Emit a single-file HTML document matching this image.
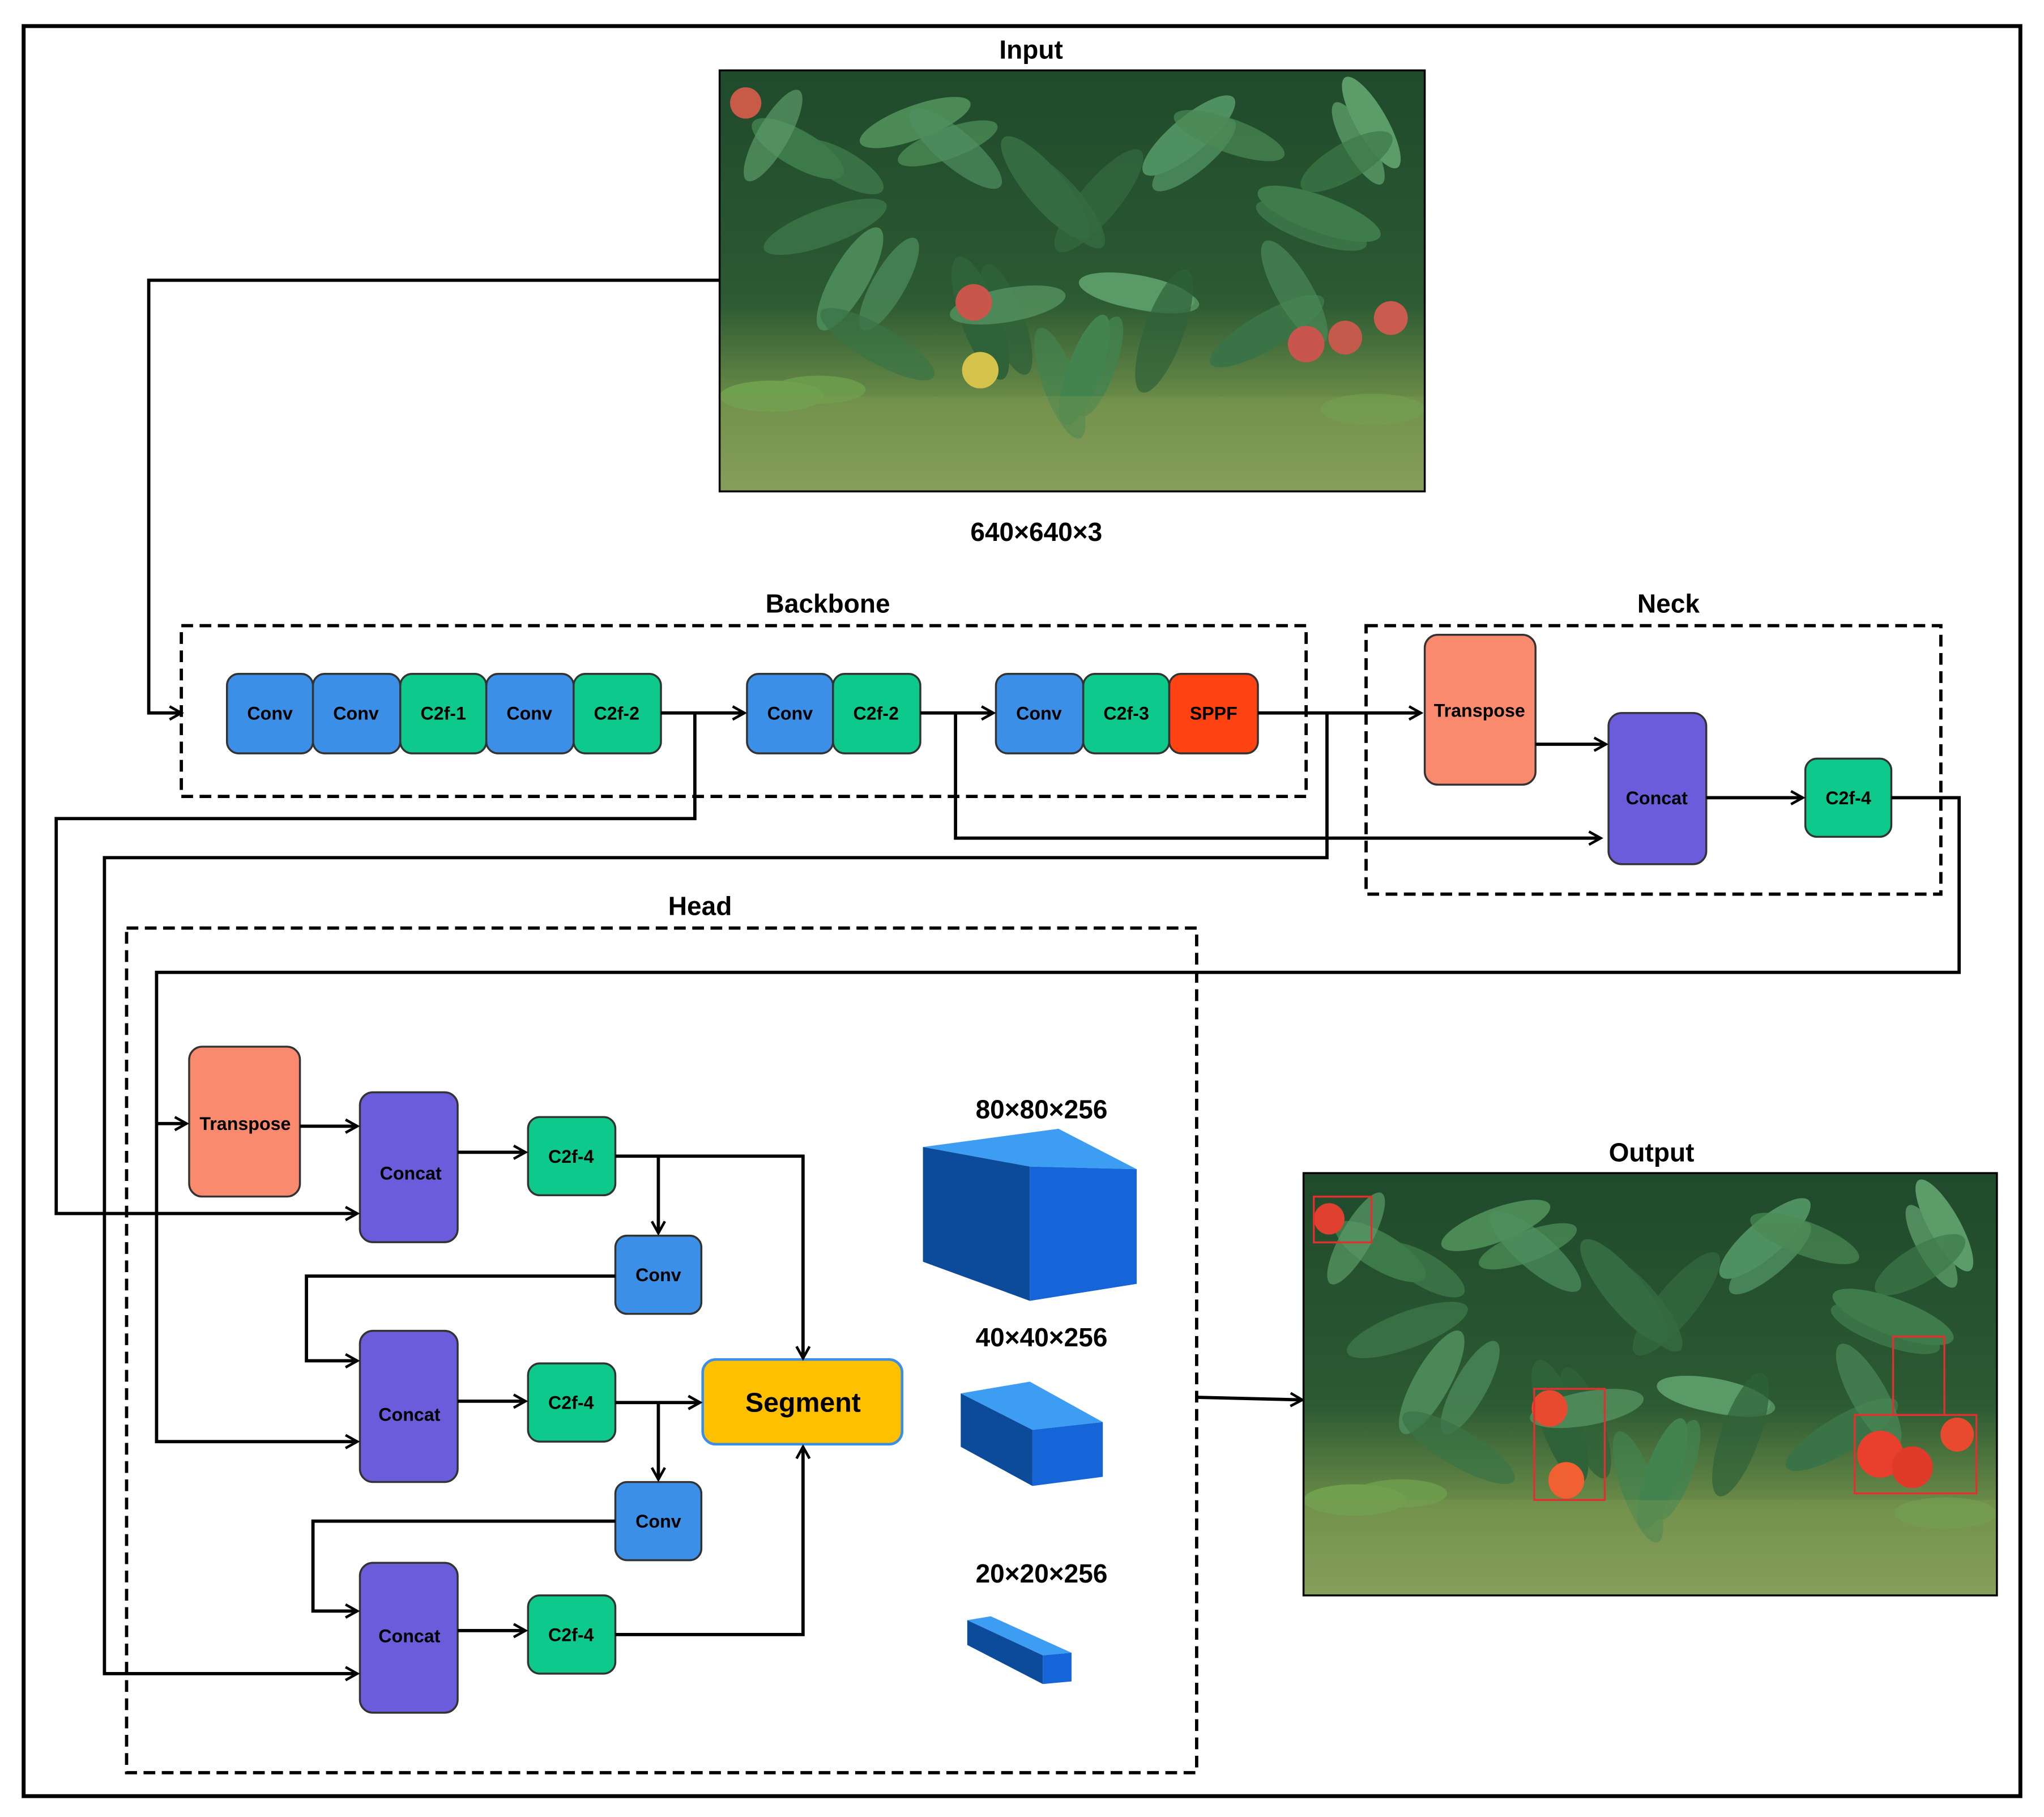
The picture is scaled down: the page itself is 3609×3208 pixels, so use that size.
<!DOCTYPE html>
<html><head><meta charset="utf-8"><style>
html,body{margin:0;padding:0;background:#fff}
svg{display:block}
text{font-family:"Liberation Sans",sans-serif;font-weight:bold;fill:#000}
</style></head><body>
<svg width="3609" height="3208" viewBox="0 0 1568 1394" xmlns="http://www.w3.org/2000/svg">
<defs>
<marker id="a" markerWidth="12" markerHeight="12" refX="10" refY="6" orient="auto" markerUnits="userSpaceOnUse">
<path d="M1,1 L10,6 L1,11" fill="none" stroke="#000" stroke-width="2"/></marker>
<linearGradient id="ph" x1="0" y1="0" x2="0" y2="1">
<stop offset="0" stop-color="#1f4a2c"/><stop offset="0.55" stop-color="#2c5a32"/><stop offset="0.8" stop-color="#6f8f4a"/><stop offset="1" stop-color="#8aa060"/></linearGradient>
<g id="leaves">
<ellipse cx="60" cy="60" rx="40" ry="14" fill="#3d7a4a" transform="rotate(30 60 60)"/>
<ellipse cx="150" cy="40" rx="45" ry="13" fill="#4b8a55" transform="rotate(-20 150 40)"/>
<ellipse cx="250" cy="90" rx="50" ry="15" fill="#356b40" transform="rotate(50 250 90)"/>
<ellipse cx="360" cy="50" rx="45" ry="14" fill="#4f9060" transform="rotate(-40 360 50)"/>
<ellipse cx="460" cy="110" rx="50" ry="14" fill="#3f7c4c" transform="rotate(20 460 110)"/>
<ellipse cx="100" cy="160" rx="45" ry="14" fill="#4a8858" transform="rotate(-60 100 160)"/>
<ellipse cx="200" cy="190" rx="50" ry="15" fill="#2f6239" transform="rotate(70 200 190)"/>
<ellipse cx="320" cy="170" rx="45" ry="13" fill="#5a9a66" transform="rotate(10 320 170)"/>
<ellipse cx="420" cy="200" rx="50" ry="14" fill="#3a7446" transform="rotate(-30 420 200)"/>
<ellipse cx="500" cy="40" rx="40" ry="12" fill="#5c9c68" transform="rotate(60 500 40)"/>
<ellipse cx="280" cy="230" rx="45" ry="13" fill="#43834f" transform="rotate(-70 280 230)"/>
<ellipse cx="40" cy="250" rx="40" ry="12" fill="#6ea04e"/>
</g>
<g id="photo">
<rect width="541" height="323" fill="url(#ph)"/>
<use href="#leaves"/>
<use href="#leaves" transform="translate(40,20) scale(0.9)" opacity="0.8"/>
<use href="#leaves" transform="translate(541,10) scale(-1,1)" opacity="0.7"/>
<rect x="0" y="250" width="541" height="73" fill="#7d9a52" opacity="0.35"/>
</g>
</defs>
<rect x="18" y="20" width="1532" height="1358" fill="none" stroke="#000" stroke-width="3"/>

<text x="791" y="45" font-size="20" text-anchor="middle">Input</text>
<svg x="552" y="54" width="541" height="323" viewBox="0 0 541 323" preserveAspectRatio="none">
<use href="#photo"/>
<circle cx="195" cy="178" r="14" fill="#c8564a"/><circle cx="200" cy="230" r="14" fill="#d5c24a"/>
<circle cx="450" cy="210" r="14" fill="#c9564e"/><circle cx="480" cy="205" r="13" fill="#c45a4c"/><circle cx="515" cy="190" r="13" fill="#c95c4e"/><circle cx="20" cy="25" r="12" fill="#c85a48"/>
</svg>
<rect x="552" y="54" width="541" height="323" fill="none" stroke="#000" stroke-width="1.5"/>
<text x="795" y="415" font-size="20" text-anchor="middle">640×640×3</text>

<text x="635" y="470" font-size="20" text-anchor="middle">Backbone</text>
<text x="1280" y="470" font-size="20" text-anchor="middle">Neck</text>
<text x="537" y="702" font-size="20" text-anchor="middle">Head</text>
<g fill="none" stroke="#000" stroke-width="2.5" stroke-dasharray="9,5">
<rect x="139" y="480" width="863" height="131"/>
<rect x="1048" y="480" width="441" height="206"/>
<rect x="97" y="712" width="821" height="648"/>
</g>

<g stroke="#333" stroke-width="1.5">
<rect x="174" y="517" width="66" height="61" rx="9" fill="#3b8fe6"/>
<rect x="240" y="517" width="67" height="61" rx="9" fill="#3b8fe6"/>
<rect x="307" y="517" width="66" height="61" rx="9" fill="#0dca8c"/>
<rect x="373" y="517" width="67" height="61" rx="9" fill="#3b8fe6"/>
<rect x="440" y="517" width="67" height="61" rx="9" fill="#0dca8c"/>
<rect x="573" y="517" width="66" height="61" rx="9" fill="#3b8fe6"/>
<rect x="639" y="517" width="67" height="61" rx="9" fill="#0dca8c"/>
<rect x="764" y="517" width="67" height="61" rx="9" fill="#3b8fe6"/>
<rect x="831" y="517" width="66" height="61" rx="9" fill="#0dca8c"/>
<rect x="897" y="517" width="68" height="61" rx="9" fill="#ff4212"/>
<rect x="1093" y="487" width="85" height="115" rx="10" fill="#fa8a6e"/>
<rect x="1234" y="547" width="75" height="116" rx="10" fill="#6b5cdb"/>
<rect x="1385" y="582" width="66" height="60" rx="9" fill="#0dca8c"/>
<rect x="145" y="803" width="85" height="115" rx="10" fill="#fa8a6e"/>
<rect x="276" y="838" width="75" height="115" rx="10" fill="#6b5cdb"/>
<rect x="405" y="857" width="67" height="60" rx="9" fill="#0dca8c"/>
<rect x="472" y="948" width="66" height="60" rx="9" fill="#3b8fe6"/>
<rect x="276" y="1021" width="75" height="116" rx="10" fill="#6b5cdb"/>
<rect x="405" y="1046" width="67" height="60" rx="9" fill="#0dca8c"/>
<rect x="472" y="1137" width="66" height="60" rx="9" fill="#3b8fe6"/>
<rect x="276" y="1199" width="75" height="115" rx="10" fill="#6b5cdb"/>
<rect x="405" y="1224" width="67" height="60" rx="9" fill="#0dca8c"/>
</g>
<rect x="539" y="1043" width="153" height="65" rx="10" fill="#ffc000" stroke="#3b8fe6" stroke-width="2"/>

<g font-size="14" text-anchor="middle">
<text x="207" y="552">Conv</text><text x="273" y="552">Conv</text><text x="340" y="552">C2f-1</text>
<text x="406" y="552">Conv</text><text x="473" y="552">C2f-2</text>
<text x="606" y="552">Conv</text><text x="672" y="552">C2f-2</text>
<text x="797" y="552">Conv</text><text x="864" y="552">C2f-3</text><text x="931" y="552">SPPF</text>
<text x="1135" y="550">Transpose</text><text x="1271" y="617">Concat</text><text x="1418" y="617">C2f-4</text>
<text x="188" y="867">Transpose</text><text x="315" y="905">Concat</text><text x="438" y="892">C2f-4</text>
<text x="505" y="983">Conv</text><text x="314" y="1090">Concat</text><text x="438" y="1081">C2f-4</text>
<text x="505" y="1172">Conv</text><text x="314" y="1260">Concat</text><text x="438" y="1259">C2f-4</text>
</g>
<text x="616" y="1083" font-size="21" text-anchor="middle">Segment</text>

<g fill="none" stroke="#000" stroke-width="2.5" marker-end="url(#a)">
<path d="M552,215 H114 V547 H139"/>
<path d="M507,547 H571"/>
<path d="M706,547 H762"/>
<path d="M965,547 H1090"/>
<path d="M533,547 V628 H43 V931 H274"/>
<path d="M733,547 V643 H1228"/>
<path d="M1018,547 V658 H80 V1284 H274"/>
<path d="M1178,571 H1232"/>
<path d="M1309,612 H1383"/>
<path d="M1451,612 H1503 V746 H120 V1106 H274"/>
<path d="M120,862 H143"/>
<path d="M230,864 H274"/>
<path d="M351,884 H403"/>
<path d="M472,887 H616 V1042"/>
<path d="M505,887 V946"/>
<path d="M472,979 H235 V1044 H274"/>
<path d="M351,1075 H403"/>
<path d="M472,1076 H537"/>
<path d="M505,1076 V1135"/>
<path d="M472,1167 H240 V1236 H274"/>
<path d="M351,1251 H403"/>
<path d="M472,1254 H616 V1110"/>
<path d="M918,1072 L999,1074"/>
</g>

<text x="799" y="858" font-size="20" text-anchor="middle">80×80×256</text>
<polygon points="708,880 812,866 872,897 790,895" fill="#3d9df2"/>
<polygon points="708,880 790,895 790,998 708,968" fill="#0c4a9a"/>
<polygon points="790,895 872,897 872,985 790,998" fill="#1565d8"/>
<text x="799" y="1033" font-size="20" text-anchor="middle">40×40×256</text>
<polygon points="737,1069 790,1060 846,1091 792,1097" fill="#3d9df2"/>
<polygon points="737,1069 792,1097 792,1140 737,1110" fill="#0c4a9a"/>
<polygon points="792,1097 846,1091 846,1133 792,1140" fill="#1565d8"/>
<text x="799" y="1214" font-size="20" text-anchor="middle">20×20×256</text>
<polygon points="742,1243 760,1240 822,1268 800,1270" fill="#3d9df2"/>
<polygon points="742,1243 800,1270 800,1292 742,1262" fill="#0c4a9a"/>
<polygon points="800,1270 822,1268 822,1290 800,1292" fill="#1565d8"/>

<text x="1267" y="891" font-size="20" text-anchor="middle">Output</text>
<svg x="1000" y="900" width="532" height="324" viewBox="0 0 541 323" preserveAspectRatio="none">
<use href="#photo"/>
<circle cx="20" cy="35" r="12" fill="#e04030"/><circle cx="192" cy="180" r="14" fill="#e84a30"/><circle cx="205" cy="235" r="14" fill="#f06030"/>
<circle cx="450" cy="215" r="18" fill="#e8402c"/><circle cx="475" cy="225" r="16" fill="#e03a2a"/><circle cx="510" cy="200" r="13" fill="#e84a30"/>
<g fill="none" stroke="#e03030" stroke-width="1.5"><rect x="8" y="18" width="45" height="35"/><rect x="180" y="165" width="55" height="85"/><rect x="430" y="185" width="95" height="60"/><rect x="460" y="125" width="40" height="60"/></g>
</svg>
<rect x="1000" y="900" width="532" height="324" fill="none" stroke="#000" stroke-width="1.5"/>
</svg>
</body></html>
